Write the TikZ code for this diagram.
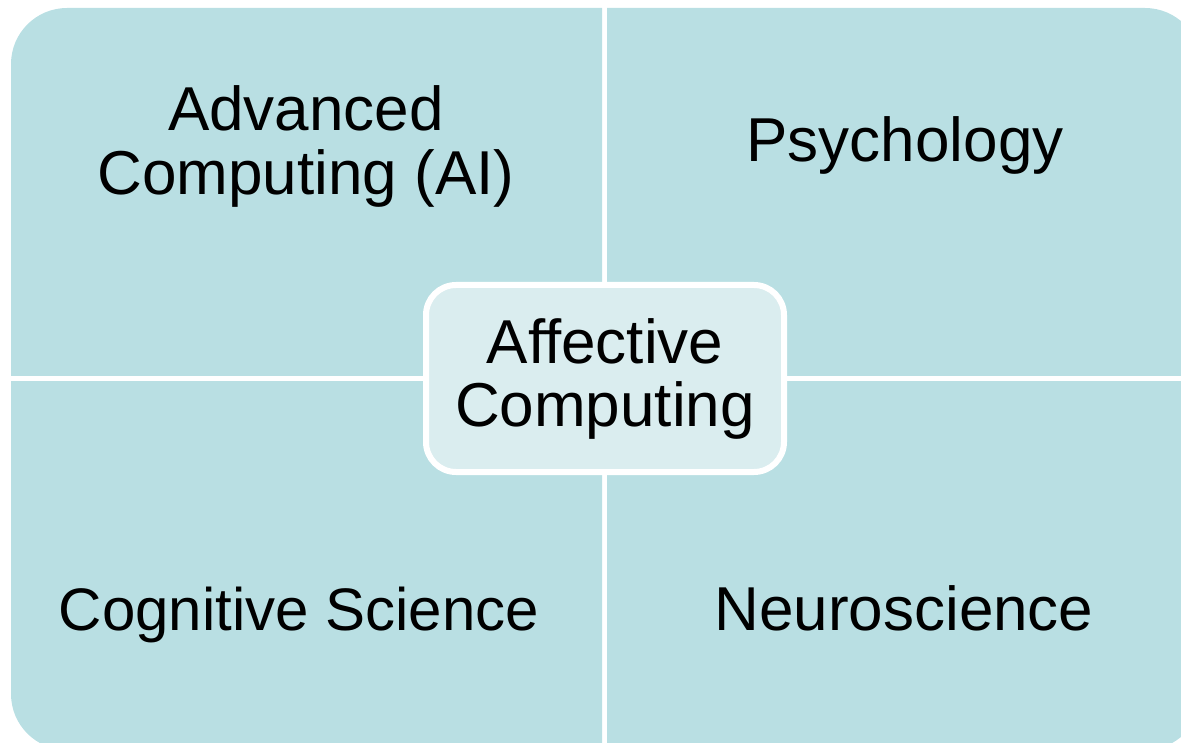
\documentclass[tikz,border=0pt]{standalone}
\usepackage{fontspec}
\setmainfont{Liberation Sans}
\definecolor{cellfill}{RGB}{185,223,227}
\definecolor{hubfill}{RGB}{218,237,239}
\begin{document}
\begin{tikzpicture}[x=1pt,y=-1pt,
  cell/.style={fill=cellfill, rounded corners=56pt},
  celltext/.style={font=\fontsize{62}{64.3}\selectfont, align=center, anchor=base, inner sep=0pt},
  hub/.style={fill=hubfill, draw=white, line width=6pt, rounded corners=30pt,
    minimum width=358pt, minimum height=187pt, inner sep=0pt,
    font=\fontsize{62}{63}\selectfont, align=center}]
\useasboundingbox (0,0) rectangle (1181,743);
% four quadrants, each rounded only at its outer corner
\begin{scope}
  \clip (11,8) rectangle (602,375);
  \path[cell] (11,8) rectangle (702,475);
\end{scope}
\begin{scope}
  \clip (607,8) rectangle (1201,375);
  \path[cell] (507,8) rectangle (1201,475);
\end{scope}
\begin{scope}
  \clip (11,381) rectangle (602,750);
  \path[cell] (11,281) rectangle (702,750);
\end{scope}
\begin{scope}
  \clip (607,381) rectangle (1201,750);
  \path[cell] (507,281) rectangle (1201,750);
\end{scope}
% quadrant labels (base anchor = baseline of the last line)
\node[celltext] (ai) at (306,195) {Advanced\\Computing (AI)};
\node[celltext] (psy) at (905,161.7) {Psychology};
\node[celltext, font=\fontsize{60}{62}\selectfont] (cog) at (299,630.7) {Cognitive Science};
\node[celltext] (neuro) at (904,630.4) {Neuroscience};
% central topic
\node[hub] (hub) at (605,378.5) {Affective\\Computing};
\end{tikzpicture}
\end{document}
